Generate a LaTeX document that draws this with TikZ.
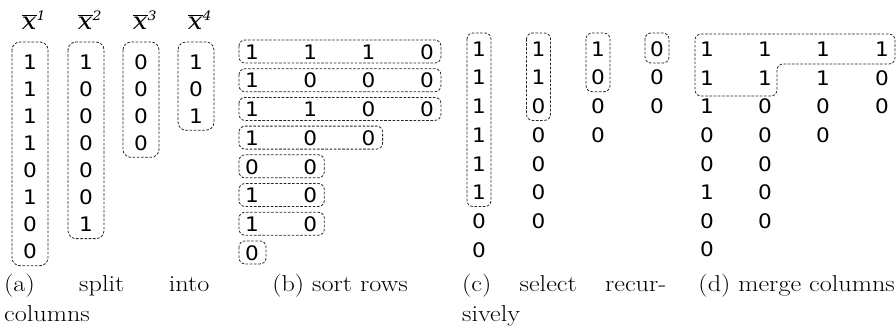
\documentclass[tikz,border=0pt]{standalone}
\usepackage{graphicx}
\usepackage{fontspec}
\newfontfamily\digfont{DejaVu Sans}
\newfontfamily\labfont{DejaVu Serif}
\newcommand{\digw}[1]{\scalebox{1.08}[1]{#1}}
\newcommand{\capw}[1]{\scalebox{1.14}[1]{#1}}
\begin{document}
\begin{tikzpicture}[x=1pt,y=-1pt,
  dig/.style={font=\digfont\fontsize{20}{24}\selectfont, inner sep=0pt, anchor=center},
  grp/.style={draw=black!85, line width=0.8pt, dash pattern=on 2.6pt off 1.6pt, rounded corners=8pt},
  grpsmall/.style={grp, rounded corners=6pt},
  lab/.style={font=\fontsize{24}{28}\selectfont, inner sep=0pt, anchor=center},
  captext/.style={font=\fontsize{23}{28}\selectfont, inner sep=0pt, anchor=base west}]
\useasboundingbox (0,0) rectangle (896,333);

% ---------- (a) split into columns ----------
\foreach \c/\cx/\n/\vals in {1/30/8/{1,1,1,1,0,1,0,0}, 2/86/7/{1,0,0,0,0,0,1}, 3/141/4/{0,0,0,0}, 4/196/3/{1,0,1}} {
  \foreach \v [count=\r] in \vals {
    \node[dig] (a-\c-\r) at (\cx, {62+27.1*(\r-1)}) {\digw{\v}};
  }
  \draw[grp] ({\cx-18}, 42) rectangle ({\cx+18}, {62+27.1*(\n-1)+14});
  \node[lab] (xa-\c) at ({\cx+4}, 20) {\digw{$\overline{\mbox{\labfont\itshape x}}^{\mbox{\labfont\itshape\fontsize{13}{15}\selectfont \c}}$}};
}

% ---------- (b) sort rows ----------
\foreach \n/\vals [count=\r] in {4/{1,1,1,0}, 4/{1,0,0,0}, 4/{1,1,0,0}, 3/{1,0,0}, 2/{0,0}, 2/{1,0}, 2/{1,0}, 1/{0}} {
  \foreach \v [count=\c] in \vals {
    \node[dig] (b-\r-\c) at ({252+58.3*(\c-1)}, {52+28.7*(\r-1)}) {\digw{\v}};
  }
  \draw[grpsmall] (239, {52+28.7*(\r-1)-12}) rectangle ({252+58.3*(\n-1)+14}, {52+28.7*(\r-1)+11});
}

% ---------- (c) select recursively ----------
\foreach \c/\cx/\n/\vals in {1/479/6/{1,1,1,1,1,1,0,0}, 2/538.5/3/{1,1,0,0,0,0,0}, 3/598/2/{1,0,0,0}, 4/657/1/{0,0,0}} {
  \foreach \v [count=\r] in \vals {
    \node[dig] (c-\c-\r) at (\cx, {49+28.7*(\r-1)}) {\digw{\v}};
  }
  \draw[grpsmall] ({\cx-12}, 33) rectangle ({\cx+12}, {49+28.7*(\n-1)+14});
}

% ---------- (d) merge columns ----------
\foreach \c/\cx/\vals in {1/707/{1,1,1,0,0,1,0,0}, 2/765/{1,1,0,0,0,0,0}, 3/823/{1,1,0,0}, 4/882/{1,0,0}} {
  \foreach \v [count=\r] in \vals {
    \node[dig] (d-\c-\r) at (\cx, {49.5+28.6*(\r-1)}) {\digw{\v}};
  }
}
\draw[grpsmall] (695,34) -- (895,34) -- (895,64) -- (777,64) -- (777,96) -- (695,96) -- cycle;

% ---------- captions ----------
\node[captext] (capa1) at (4, 291) {\capw{\hbox to 180pt{(a)\hfill split\hfill into}}};
\node[captext] (capa2) at (4, 321) {\capw{columns}};
\node[captext, anchor=base] (capb) at (340, 291) {\capw{(b) sort rows}};
\node[captext] (capc1) at (462, 291) {\capw{\hbox to 179pt{(c)\hfill select\hfill recur-}}};
\node[captext] (capc2) at (462, 321) {\capw{sively}};
\node[captext, anchor=base east] (capd) at (895, 291) {\capw{(d) merge columns}};
\end{tikzpicture}
\end{document}
